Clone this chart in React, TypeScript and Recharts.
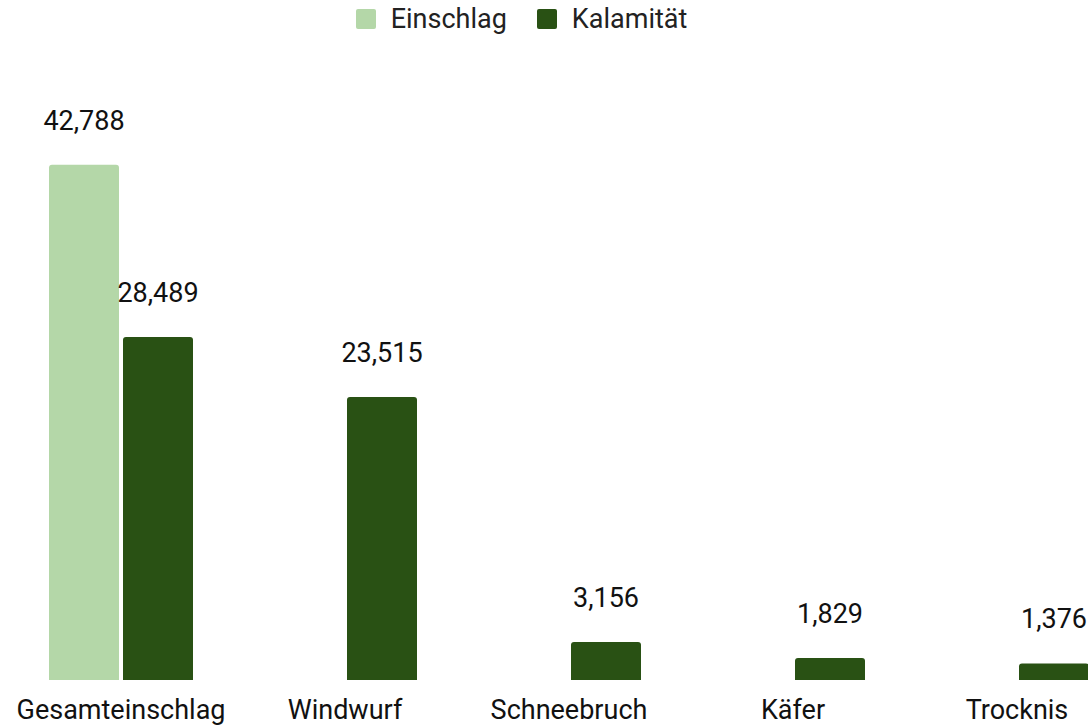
import React from "react";
import { BarChart, Bar, XAxis, YAxis, Legend, LabelList } from "recharts";

const categories = ["Gesamteinschlag", "Windwurf", "Schneebruch", "Käfer", "Trocknis"];
const einschlag: (number | null)[] = [42788, null, null, null, null];
const kalamitaet: number[] = [28489, 23515, 3156, 1829, 1376];

const data = categories.map((name, i) => ({
  name,
  Einschlag: einschlag[i],
  Kalamität: kalamitaet[i],
}));

const LIGHT = "#b4d7a8";
const DARK = "#295114";
const FONT = "Roboto, sans-serif";
const FS = 27;

const fmt = (v: any) => (v == null ? "" : Number(v).toLocaleString("en-US"));

const LegendContent = () => (
  <div
    style={{
      display: "flex",
      justifyContent: "center",
      alignItems: "center",
      height: 38,
      fontFamily: FONT,
      fontSize: FS,
      color: "#222",
    }}
  >
    {[
      { label: "Einschlag", color: LIGHT },
      { label: "Kalamität", color: DARK },
    ].map((it, i) => (
      <div key={it.label} style={{ display: "flex", alignItems: "center", marginLeft: i ? 30 : 0 }}>
        <div style={{ width: 20, height: 20, background: it.color, borderRadius: 2, marginRight: 15 }} />
        <span>{it.label}</span>
      </div>
    ))}
  </div>
);

export default function App() {
  return (
    <div
      style={{
        position: "absolute",
        left: 0,
        top: 0,
        width: 1088,
        height: 725,
        overflow: "hidden",
        background: "#fff",
      }}
    >
      <BarChart
        width={1129}
        height={725}
        data={data}
        margin={{ top: 40, right: 0, bottom: 5, left: 9 }}
        barSize={70}
        barGap={4}
      >
        <Legend
          verticalAlign="top"
          content={<LegendContent />}
          wrapperStyle={{ left: 0, top: 0, width: 1043 }}
        />
        <XAxis
          dataKey="name"
          axisLine={false}
          tickLine={false}
          height={40}
          interval={0}
          tickMargin={14}
          tick={{ fill: "#111", fontSize: FS, fontFamily: FONT }}
        />
        <YAxis hide domain={[0, 50000]} />
        <Bar dataKey="Einschlag" fill={LIGHT} radius={[3, 3, 0, 0]} isAnimationActive={false}>
          <LabelList
            dataKey="Einschlag"
            position="top"
            offset={35}
            formatter={fmt}
            style={{ fill: "#111", fontSize: FS, fontFamily: FONT }}
          />
        </Bar>
        <Bar dataKey="Kalamität" fill={DARK} radius={[3, 3, 0, 0]} isAnimationActive={false}>
          <LabelList
            dataKey="Kalamität"
            position="top"
            offset={35}
            formatter={fmt}
            style={{ fill: "#111", fontSize: FS, fontFamily: FONT }}
          />
        </Bar>
      </BarChart>
    </div>
  );
}
